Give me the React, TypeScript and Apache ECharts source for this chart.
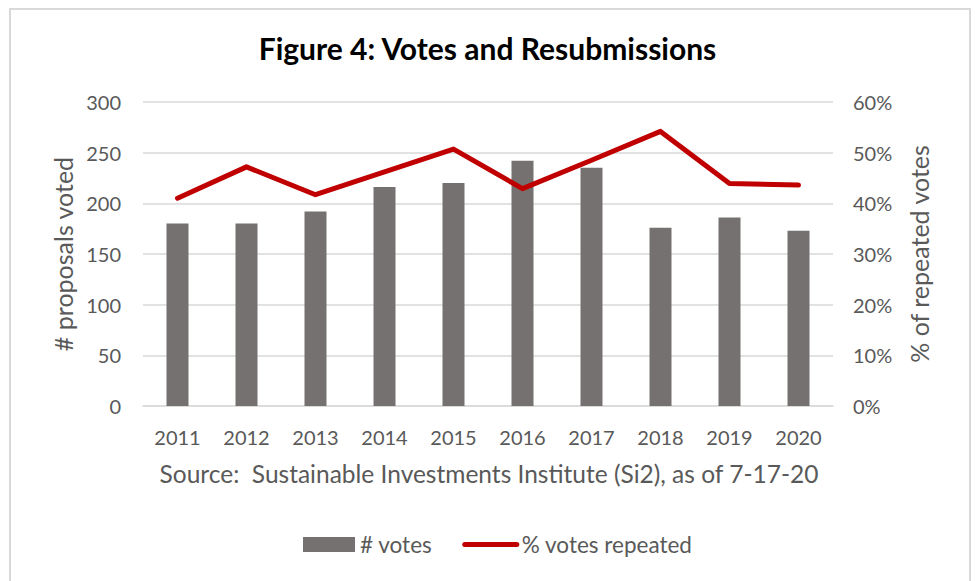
import React, { useEffect, useRef } from "react";
import * as echarts from "echarts";

const years = ["2011", "2012", "2013", "2014", "2015", "2016", "2017", "2018", "2019", "2020"];
const votes = [180, 180, 192, 216, 220, 242, 235, 176, 186, 173];
const repeatedPct = [41.0, 47.2, 41.7, 46.2, 50.7, 42.9, 48.5, 54.2, 43.9, 43.6];

const titleText = "Figure 4: Votes and Resubmissions";
const sourceText = "Source:  Sustainable Investments Institute (Si2), as of 7-17-20";
const leftAxisName = "# proposals voted";
const rightAxisName = "% of repeated votes";
const barName = "# votes";
const lineName = "% votes repeated";

const FONT = "Lato";
const GRAY = "#595959";

export default function App() {
  const ref = useRef<HTMLDivElement>(null);
  useEffect(() => {
    document.body.style.margin = "0";
    const chart = echarts.init(ref.current!, null, { renderer: "svg" });
    chart.setOption({
      animation: false,
      backgroundColor: "#ffffff",
      textStyle: { fontFamily: FONT },
      title: {
        text: titleText,
        left: "center",
        top: 28,
        textStyle: { fontFamily: FONT, fontWeight: "bold", fontSize: 30, color: "#000000" },
      },
      grid: { left: 143, right: 142, top: 102, bottom: 175, containLabel: false },
      legend: {
        left: 303,
        top: 533,
        padding: 0,
        itemWidth: 52,
        itemHeight: 15,
        itemGap: 30,
        textStyle: { fontFamily: FONT, fontSize: 22.5, color: GRAY },
        data: [
          { name: barName, icon: "rect" },
          { name: lineName, itemStyle: { opacity: 0 }, lineStyle: { width: 5, cap: "round", color: "#c00000" } },
        ],
      },
      xAxis: {
        type: "category",
        data: years,
        axisLine: { lineStyle: { color: "#d9d9d9", width: 1.5 } },
        axisTick: { show: false },
        axisLabel: { color: GRAY, fontSize: 20, margin: 21, fontFamily: FONT },
      },
      yAxis: [
        {
          type: "value",
          min: 0,
          max: 300,
          interval: 50,
          name: leftAxisName,
          nameLocation: "middle",
          nameRotate: 90,
          nameGap: 68,
          nameTextStyle: { color: GRAY, fontSize: 25, fontFamily: FONT },
          axisLine: { show: false },
          axisTick: { show: false },
          axisLabel: { color: GRAY, fontSize: 20, margin: 22, fontFamily: FONT },
          splitLine: { lineStyle: { color: "#d9d9d9", width: 1.5 } },
        },
        {
          type: "value",
          min: 0,
          max: 60,
          interval: 10,
          position: "right",
          name: rightAxisName,
          nameLocation: "middle",
          nameRotate: 90,
          nameGap: 73,
          nameTextStyle: { color: GRAY, fontSize: 25, fontFamily: FONT },
          axisLine: { show: false },
          axisTick: { show: false },
          axisLabel: { color: GRAY, fontSize: 20, margin: 20, fontFamily: FONT, formatter: "{value}%" },
          splitLine: { show: false },
        },
      ],
      graphic: [
        {
          type: "rect",
          shape: { x: 10, y: 9, width: 960, height: 620 },
          style: { fill: "none", stroke: "#d9d9d9", lineWidth: 2 },
          silent: true,
        },
        {
          type: "text",
          x: 489,
          y: 473,
          style: {
            text: sourceText,
            fontFamily: FONT,
            fontSize: 24.5,
            fill: GRAY,
            textAlign: "center",
            textVerticalAlign: "middle",
          },
        },
      ],
      series: [
        {
          name: barName,
          type: "bar",
          data: votes,
          yAxisIndex: 0,
          barWidth: 22,
          itemStyle: { color: "#767171" },
        },
        {
          name: lineName,
          type: "line",
          data: repeatedPct,
          yAxisIndex: 1,
          symbol: "none",
          lineStyle: { color: "#c00000", width: 5, cap: "round", join: "round" },
          itemStyle: { color: "#c00000" },
        },
      ],
    });
    return () => chart.dispose();
  }, []);
  return <div ref={ref} style={{ width: 975, height: 581 }} />;
}
